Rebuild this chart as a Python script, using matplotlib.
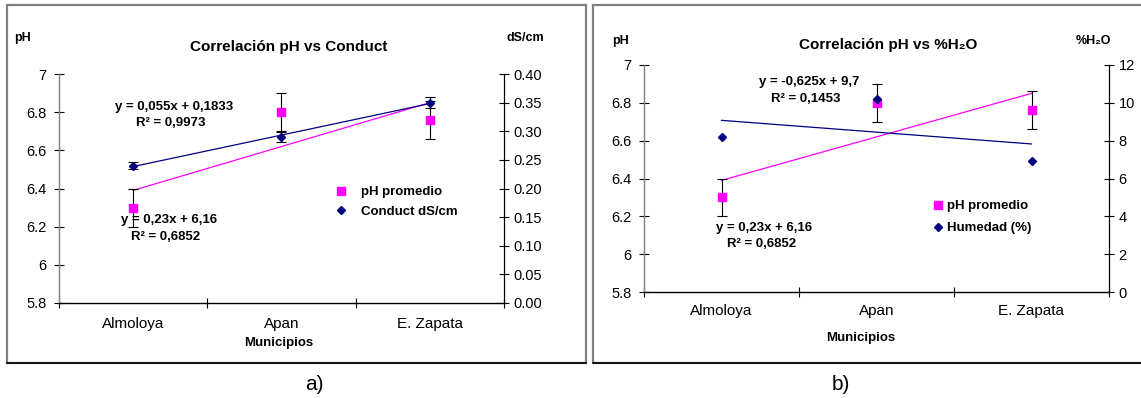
import matplotlib
matplotlib.use("Agg")
import matplotlib.pyplot as plt
import numpy as np
from matplotlib.lines import Line2D
from matplotlib.patches import Rectangle

plt.rcParams['font.family'] = ['Liberation Sans', 'DejaVu Sans']

# data
municipios = ['Almoloya', 'Apan', 'E. Zapata']
ph_prom = [6.30, 6.80, 6.76]
ph_err = [0.10, 0.10, 0.10]
conduct = [0.24, 0.29, 0.35]
conduct_err = [0.006, 0.008, 0.010]
humedad = [8.2, 10.2, 6.95]

W, H = 1141, 398
MAG = '#FF00FF'
NAVY = '#000080'


def fx(x):
    return x / W


def fy(y):
    return 1 - y / H


def ptext(x, y, s, **kw):
    kw.setdefault('ha', 'center')
    kw.setdefault('va', 'center')
    fig.text(fx(x), fy(y), s, **kw)


def style_axes(ax, ax2, pad_cat):
    x = np.arange(1, 4)
    ax.set_xlim(0.5, 3.5)
    ax.set_xticks([0.5, 1.5, 2.5, 3.5])
    ax.set_xticklabels([])
    ax.set_xticks(x, minor=True)
    ax.set_xticklabels(municipios, minor=True, fontsize=11)
    ax.tick_params(axis='x', which='minor', length=0, pad=pad_cat)
    ax.tick_params(axis='x', which='major', direction='inout', length=7.5, width=0.8)
    ax.set_ylim(5.8, 7.0)
    ax.set_yticks(np.arange(5.8, 7.01, 0.2))
    ax.set_yticklabels(['5.8', '6', '6.2', '6.4', '6.6', '6.8', '7'])
    ax.tick_params(axis='y', direction='inout', length=7.5, width=0.8, labelsize=10.5, pad=5)
    ax2.tick_params(axis='y', direction='inout', length=7.5, width=0.8, labelsize=10.5, pad=3)
    ax.spines['top'].set_visible(False)
    ax2.spines['top'].set_visible(False)
    ax.spines['left'].set_color('#808080')
    ax2.spines['left'].set_visible(False)
    ax2.spines['bottom'].set_visible(False)
    ax.spines['bottom'].set_linewidth(1.0)
    ax.spines['left'].set_linewidth(1.0)
    ax2.spines['right'].set_linewidth(0.8)
    for a in (ax, ax2):
        a.patch.set_visible(False)


def trend(xv, yv):
    k, b = np.polyfit(xv, yv, 1)
    return k * xv + b


fig = plt.figure(figsize=(W / 100, H / 100), dpi=100)

# panel frames
for (x0, x1) in [(7, 586), (593, 1145)]:
    fig.patches.append(Rectangle((fx(x0), fy(363)), fx(x1 - x0), (363 - 5) / H,
                                 transform=fig.transFigure, fill=False,
                                 edgecolor='#808080', lw=1.6))
    fig.add_artist(Line2D([fx(x0), fx(x1)], [fy(363), fy(363)],
                          transform=fig.transFigure, color='black', lw=1.2))

x = np.arange(1, 4)
eq = dict(fontsize=9.5, fontweight='bold')
SQ = 5.5
DM = 4.2

# ---------------- panel a ----------------
ax = fig.add_axes([fx(59), fy(303), fx(504 - 59), (303 - 74) / H])
ax2 = ax.twinx()
style_axes(ax, ax2, 10)
ax2.set_ylim(0, 0.40)
ax2.set_yticks(np.arange(0, 0.41, 0.05))
ax2.set_yticklabels([f'{v:.2f}' for v in np.arange(0, 0.41, 0.05)])

ax.plot(x, trend(x, ph_prom), color=MAG, lw=0.9, zorder=2)
ax.errorbar(x, ph_prom, yerr=ph_err, fmt='none', ecolor='black', elinewidth=0.8,
            capsize=3.3, capthick=0.8, zorder=3)
ax.plot(x, ph_prom, 's', color=MAG, ms=SQ, zorder=4)
ax2.plot(x, trend(x, conduct), color=NAVY, lw=0.9, zorder=2)
ax2.errorbar(x, conduct, yerr=conduct_err, fmt='none', ecolor='black',
             elinewidth=0.8, capsize=3.3, capthick=0.8, zorder=3)
ax2.plot(x, conduct, 'D', color=NAVY, ms=DM, zorder=4)

hA = [Line2D([], [], ls='none', marker='s', color=MAG, ms=SQ),
      Line2D([], [], ls='none', marker='D', color=NAVY, ms=DM)]
ax2.legend(hA, ['pH promedio', 'Conduct dS/cm'], loc='upper left',
           bbox_to_anchor=(fx(336), fy(186)), bbox_transform=fig.transFigure,
           frameon=False, borderpad=0, borderaxespad=0, handlelength=0.8,
           handletextpad=1.1, labelspacing=0.55,
           prop={'weight': 'bold', 'size': 9.5})

ptext(289, 47, 'Correlación pH vs Conduct', fontsize=11, fontweight='bold')
ptext(23, 38, 'pH', fontsize=9, fontweight='bold')
ptext(525, 38, 'dS/cm', fontsize=9, fontweight='bold')
ptext(174, 107, 'y = 0,055x + 0,1833', **eq)
ptext(171, 123, 'R² = 0,9973', **eq)
ptext(169, 220, 'y = 0,23x + 6,16', **eq)
ptext(166, 237, 'R² = 0,6852', **eq)
ptext(279, 343, 'Municipios', **eq)
ptext(314, 385, 'a)', fontsize=15)

# ---------------- panel b ----------------
bx = fig.add_axes([fx(644), fy(292), fx(1109 - 644), (292 - 65) / H])
bx2 = bx.twinx()
style_axes(bx, bx2, 9)
bx2.set_ylim(0, 12)
bx2.set_yticks(np.arange(0, 13, 2))

bx.plot(x, trend(x, ph_prom), color=MAG, lw=0.9, zorder=2)
bx.errorbar(x, ph_prom, yerr=ph_err, fmt='none', ecolor='black', elinewidth=0.8,
            capsize=3.3, capthick=0.8, zorder=3)
bx.plot(x, ph_prom, 's', color=MAG, ms=SQ, zorder=4)
bx2.plot(x, trend(x, humedad), color=NAVY, lw=0.9, zorder=2)
bx2.plot(x, humedad, 'D', color=NAVY, ms=DM, zorder=4)

hB = [Line2D([], [], ls='none', marker='s', color=MAG, ms=SQ),
      Line2D([], [], ls='none', marker='D', color=NAVY, ms=DM)]
bx2.legend(hB, ['pH promedio', 'Humedad (%)'], loc='upper left',
           bbox_to_anchor=(fx(933), fy(200)), bbox_transform=fig.transFigure,
           frameon=False, borderpad=0, borderaxespad=0, handlelength=0.8,
           handletextpad=0.28, labelspacing=0.75,
           prop={'weight': 'bold', 'size': 9.5})

ptext(888, 45, 'Correlación pH vs %H₂O', fontsize=11, fontweight='bold')
ptext(621, 41, 'pH', fontsize=9, fontweight='bold')
ptext(1093, 41, '%H₂O', fontsize=9, fontweight='bold')
ptext(809, 82, 'y = -0,625x + 9,7', **eq)
ptext(806, 99, 'R² = 0,1453', **eq)
ptext(764, 228, 'y = 0,23x + 6,16', **eq)
ptext(762, 244, 'R² = 0,6852', **eq)
ptext(861, 338, 'Municipios', **eq)
ptext(841, 385, 'b)', fontsize=15)

fig.savefig('out.png', dpi=100)
